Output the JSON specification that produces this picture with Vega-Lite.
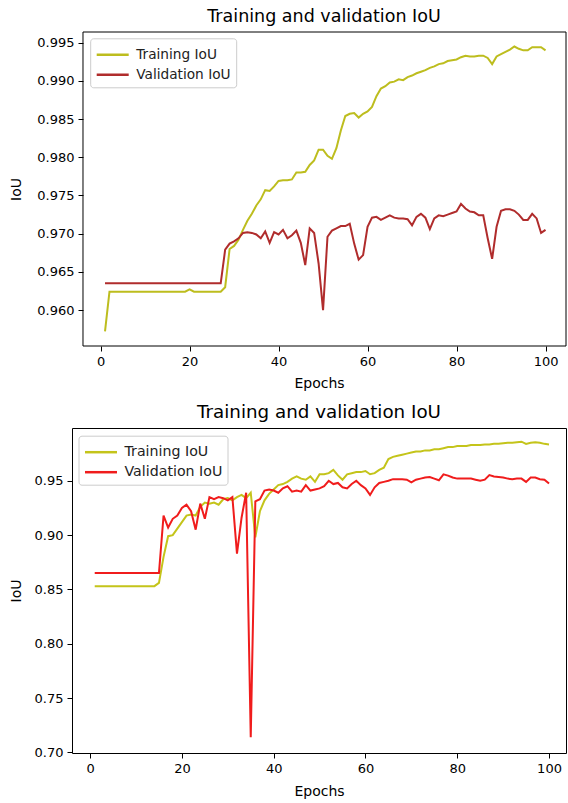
{
  "$schema": "https://vega.github.io/schema/vega-lite/v6.json",
  "padding": {"left": 9, "top": 8, "right": 0, "bottom": 0},
  "spacing": 12,
  "datasets": {
    "top": [
      {"epoch":1,"Training IoU":0.9572,"Validation IoU":0.9635},
      {"epoch":2,"Training IoU":0.9624,"Validation IoU":0.9635},
      {"epoch":3,"Training IoU":0.9624,"Validation IoU":0.9635},
      {"epoch":4,"Training IoU":0.9624,"Validation IoU":0.9635},
      {"epoch":5,"Training IoU":0.9624,"Validation IoU":0.9635},
      {"epoch":6,"Training IoU":0.9624,"Validation IoU":0.9635},
      {"epoch":7,"Training IoU":0.9624,"Validation IoU":0.9635},
      {"epoch":8,"Training IoU":0.9624,"Validation IoU":0.9635},
      {"epoch":9,"Training IoU":0.9624,"Validation IoU":0.9635},
      {"epoch":10,"Training IoU":0.9624,"Validation IoU":0.9635},
      {"epoch":11,"Training IoU":0.9624,"Validation IoU":0.9635},
      {"epoch":12,"Training IoU":0.9624,"Validation IoU":0.9635},
      {"epoch":13,"Training IoU":0.9624,"Validation IoU":0.9635},
      {"epoch":14,"Training IoU":0.9624,"Validation IoU":0.9635},
      {"epoch":15,"Training IoU":0.9624,"Validation IoU":0.9635},
      {"epoch":16,"Training IoU":0.9624,"Validation IoU":0.9635},
      {"epoch":17,"Training IoU":0.9624,"Validation IoU":0.9635},
      {"epoch":18,"Training IoU":0.9624,"Validation IoU":0.9635},
      {"epoch":19,"Training IoU":0.9624,"Validation IoU":0.9635},
      {"epoch":20,"Training IoU":0.9627,"Validation IoU":0.9635},
      {"epoch":21,"Training IoU":0.9624,"Validation IoU":0.9635},
      {"epoch":22,"Training IoU":0.9624,"Validation IoU":0.9635},
      {"epoch":23,"Training IoU":0.9624,"Validation IoU":0.9635},
      {"epoch":24,"Training IoU":0.9624,"Validation IoU":0.9635},
      {"epoch":25,"Training IoU":0.9624,"Validation IoU":0.9635},
      {"epoch":26,"Training IoU":0.9624,"Validation IoU":0.9635},
      {"epoch":27,"Training IoU":0.9624,"Validation IoU":0.9635},
      {"epoch":28,"Training IoU":0.9630,"Validation IoU":0.9679},
      {"epoch":29,"Training IoU":0.9680,"Validation IoU":0.9687},
      {"epoch":30,"Training IoU":0.9684,"Validation IoU":0.9690},
      {"epoch":31,"Training IoU":0.9692,"Validation IoU":0.9694},
      {"epoch":32,"Training IoU":0.9705,"Validation IoU":0.9701},
      {"epoch":33,"Training IoU":0.9717,"Validation IoU":0.9702},
      {"epoch":34,"Training IoU":0.9726,"Validation IoU":0.9701},
      {"epoch":35,"Training IoU":0.9737,"Validation IoU":0.9699},
      {"epoch":36,"Training IoU":0.9745,"Validation IoU":0.9694},
      {"epoch":37,"Training IoU":0.9757,"Validation IoU":0.9703},
      {"epoch":38,"Training IoU":0.9756,"Validation IoU":0.9688},
      {"epoch":39,"Training IoU":0.9762,"Validation IoU":0.9702},
      {"epoch":40,"Training IoU":0.9769,"Validation IoU":0.9699},
      {"epoch":41,"Training IoU":0.9770,"Validation IoU":0.9705},
      {"epoch":42,"Training IoU":0.9770,"Validation IoU":0.9694},
      {"epoch":43,"Training IoU":0.9771,"Validation IoU":0.9698},
      {"epoch":44,"Training IoU":0.9780,"Validation IoU":0.9704},
      {"epoch":45,"Training IoU":0.9780,"Validation IoU":0.9688},
      {"epoch":46,"Training IoU":0.9781,"Validation IoU":0.9659},
      {"epoch":47,"Training IoU":0.9790,"Validation IoU":0.9707},
      {"epoch":48,"Training IoU":0.9796,"Validation IoU":0.9701},
      {"epoch":49,"Training IoU":0.9810,"Validation IoU":0.9661},
      {"epoch":50,"Training IoU":0.9810,"Validation IoU":0.9600},
      {"epoch":51,"Training IoU":0.9802,"Validation IoU":0.9696},
      {"epoch":52,"Training IoU":0.9798,"Validation IoU":0.9704},
      {"epoch":53,"Training IoU":0.9812,"Validation IoU":0.9707},
      {"epoch":54,"Training IoU":0.9835,"Validation IoU":0.9710},
      {"epoch":55,"Training IoU":0.9854,"Validation IoU":0.9710},
      {"epoch":56,"Training IoU":0.9857,"Validation IoU":0.9713},
      {"epoch":57,"Training IoU":0.9858,"Validation IoU":0.9687},
      {"epoch":58,"Training IoU":0.9852,"Validation IoU":0.9666},
      {"epoch":59,"Training IoU":0.9857,"Validation IoU":0.9672},
      {"epoch":60,"Training IoU":0.9860,"Validation IoU":0.9709},
      {"epoch":61,"Training IoU":0.9866,"Validation IoU":0.9721},
      {"epoch":62,"Training IoU":0.9880,"Validation IoU":0.9722},
      {"epoch":63,"Training IoU":0.9890,"Validation IoU":0.9718},
      {"epoch":64,"Training IoU":0.9893,"Validation IoU":0.9721},
      {"epoch":65,"Training IoU":0.9898,"Validation IoU":0.9724},
      {"epoch":66,"Training IoU":0.9899,"Validation IoU":0.9721},
      {"epoch":67,"Training IoU":0.9902,"Validation IoU":0.9720},
      {"epoch":68,"Training IoU":0.9901,"Validation IoU":0.9720},
      {"epoch":69,"Training IoU":0.9905,"Validation IoU":0.9719},
      {"epoch":70,"Training IoU":0.9907,"Validation IoU":0.9711},
      {"epoch":71,"Training IoU":0.9910,"Validation IoU":0.9722},
      {"epoch":72,"Training IoU":0.9912,"Validation IoU":0.9726},
      {"epoch":73,"Training IoU":0.9914,"Validation IoU":0.9721},
      {"epoch":74,"Training IoU":0.9917,"Validation IoU":0.9706},
      {"epoch":75,"Training IoU":0.9919,"Validation IoU":0.9720},
      {"epoch":76,"Training IoU":0.9922,"Validation IoU":0.9724},
      {"epoch":77,"Training IoU":0.9923,"Validation IoU":0.9723},
      {"epoch":78,"Training IoU":0.9926,"Validation IoU":0.9725},
      {"epoch":79,"Training IoU":0.9927,"Validation IoU":0.9727},
      {"epoch":80,"Training IoU":0.9928,"Validation IoU":0.9729},
      {"epoch":81,"Training IoU":0.9931,"Validation IoU":0.9739},
      {"epoch":82,"Training IoU":0.9933,"Validation IoU":0.9733},
      {"epoch":83,"Training IoU":0.9932,"Validation IoU":0.9729},
      {"epoch":84,"Training IoU":0.9932,"Validation IoU":0.9728},
      {"epoch":85,"Training IoU":0.9933,"Validation IoU":0.9724},
      {"epoch":86,"Training IoU":0.9933,"Validation IoU":0.9724},
      {"epoch":87,"Training IoU":0.9930,"Validation IoU":0.9694},
      {"epoch":88,"Training IoU":0.9922,"Validation IoU":0.9667},
      {"epoch":89,"Training IoU":0.9932,"Validation IoU":0.9709},
      {"epoch":90,"Training IoU":0.9935,"Validation IoU":0.9730},
      {"epoch":91,"Training IoU":0.9938,"Validation IoU":0.9732},
      {"epoch":92,"Training IoU":0.9941,"Validation IoU":0.9732},
      {"epoch":93,"Training IoU":0.9945,"Validation IoU":0.9730},
      {"epoch":94,"Training IoU":0.9942,"Validation IoU":0.9725},
      {"epoch":95,"Training IoU":0.9940,"Validation IoU":0.9718},
      {"epoch":96,"Training IoU":0.9940,"Validation IoU":0.9718},
      {"epoch":97,"Training IoU":0.9944,"Validation IoU":0.9726},
      {"epoch":98,"Training IoU":0.9944,"Validation IoU":0.9720},
      {"epoch":99,"Training IoU":0.9944,"Validation IoU":0.9701},
      {"epoch":100,"Training IoU":0.9940,"Validation IoU":0.9705}
    ],
    "bottom": [
      {"epoch":1,"Training IoU":0.853,"Validation IoU":0.865},
      {"epoch":2,"Training IoU":0.853,"Validation IoU":0.865},
      {"epoch":3,"Training IoU":0.853,"Validation IoU":0.865},
      {"epoch":4,"Training IoU":0.853,"Validation IoU":0.865},
      {"epoch":5,"Training IoU":0.853,"Validation IoU":0.865},
      {"epoch":6,"Training IoU":0.853,"Validation IoU":0.865},
      {"epoch":7,"Training IoU":0.853,"Validation IoU":0.865},
      {"epoch":8,"Training IoU":0.853,"Validation IoU":0.865},
      {"epoch":9,"Training IoU":0.853,"Validation IoU":0.865},
      {"epoch":10,"Training IoU":0.853,"Validation IoU":0.865},
      {"epoch":11,"Training IoU":0.853,"Validation IoU":0.865},
      {"epoch":12,"Training IoU":0.853,"Validation IoU":0.865},
      {"epoch":13,"Training IoU":0.853,"Validation IoU":0.865},
      {"epoch":14,"Training IoU":0.853,"Validation IoU":0.865},
      {"epoch":15,"Training IoU":0.856,"Validation IoU":0.865},
      {"epoch":16,"Training IoU":0.880,"Validation IoU":0.918},
      {"epoch":17,"Training IoU":0.899,"Validation IoU":0.907},
      {"epoch":18,"Training IoU":0.900,"Validation IoU":0.915},
      {"epoch":19,"Training IoU":0.906,"Validation IoU":0.918},
      {"epoch":20,"Training IoU":0.912,"Validation IoU":0.925},
      {"epoch":21,"Training IoU":0.918,"Validation IoU":0.928},
      {"epoch":22,"Training IoU":0.919,"Validation IoU":0.922},
      {"epoch":23,"Training IoU":0.918,"Validation IoU":0.905},
      {"epoch":24,"Training IoU":0.926,"Validation IoU":0.929},
      {"epoch":25,"Training IoU":0.930,"Validation IoU":0.915},
      {"epoch":26,"Training IoU":0.929,"Validation IoU":0.935},
      {"epoch":27,"Training IoU":0.930,"Validation IoU":0.933},
      {"epoch":28,"Training IoU":0.928,"Validation IoU":0.935},
      {"epoch":29,"Training IoU":0.933,"Validation IoU":0.934},
      {"epoch":30,"Training IoU":0.934,"Validation IoU":0.932},
      {"epoch":31,"Training IoU":0.932,"Validation IoU":0.935},
      {"epoch":32,"Training IoU":0.935,"Validation IoU":0.883},
      {"epoch":33,"Training IoU":0.937,"Validation IoU":0.916},
      {"epoch":34,"Training IoU":0.934,"Validation IoU":0.939},
      {"epoch":35,"Training IoU":0.939,"Validation IoU":0.714},
      {"epoch":36,"Training IoU":0.898,"Validation IoU":0.931},
      {"epoch":37,"Training IoU":0.922,"Validation IoU":0.933},
      {"epoch":38,"Training IoU":0.932,"Validation IoU":0.941},
      {"epoch":39,"Training IoU":0.938,"Validation IoU":0.942},
      {"epoch":40,"Training IoU":0.942,"Validation IoU":0.941},
      {"epoch":41,"Training IoU":0.946,"Validation IoU":0.939},
      {"epoch":42,"Training IoU":0.947,"Validation IoU":0.943},
      {"epoch":43,"Training IoU":0.949,"Validation IoU":0.945},
      {"epoch":44,"Training IoU":0.952,"Validation IoU":0.940},
      {"epoch":45,"Training IoU":0.954,"Validation IoU":0.941},
      {"epoch":46,"Training IoU":0.952,"Validation IoU":0.940},
      {"epoch":47,"Training IoU":0.951,"Validation IoU":0.946},
      {"epoch":48,"Training IoU":0.954,"Validation IoU":0.941},
      {"epoch":49,"Training IoU":0.949,"Validation IoU":0.942},
      {"epoch":50,"Training IoU":0.956,"Validation IoU":0.943},
      {"epoch":51,"Training IoU":0.956,"Validation IoU":0.945},
      {"epoch":52,"Training IoU":0.957,"Validation IoU":0.950},
      {"epoch":53,"Training IoU":0.960,"Validation IoU":0.947},
      {"epoch":54,"Training IoU":0.955,"Validation IoU":0.948},
      {"epoch":55,"Training IoU":0.951,"Validation IoU":0.944},
      {"epoch":56,"Training IoU":0.956,"Validation IoU":0.943},
      {"epoch":57,"Training IoU":0.957,"Validation IoU":0.947},
      {"epoch":58,"Training IoU":0.958,"Validation IoU":0.950},
      {"epoch":59,"Training IoU":0.958,"Validation IoU":0.946},
      {"epoch":60,"Training IoU":0.959,"Validation IoU":0.943},
      {"epoch":61,"Training IoU":0.956,"Validation IoU":0.937},
      {"epoch":62,"Training IoU":0.957,"Validation IoU":0.944},
      {"epoch":63,"Training IoU":0.960,"Validation IoU":0.948},
      {"epoch":64,"Training IoU":0.962,"Validation IoU":0.949},
      {"epoch":65,"Training IoU":0.970,"Validation IoU":0.950},
      {"epoch":66,"Training IoU":0.972,"Validation IoU":0.9515},
      {"epoch":67,"Training IoU":0.973,"Validation IoU":0.9515},
      {"epoch":68,"Training IoU":0.974,"Validation IoU":0.9515},
      {"epoch":69,"Training IoU":0.975,"Validation IoU":0.951},
      {"epoch":70,"Training IoU":0.976,"Validation IoU":0.9485},
      {"epoch":71,"Training IoU":0.977,"Validation IoU":0.951},
      {"epoch":72,"Training IoU":0.977,"Validation IoU":0.952},
      {"epoch":73,"Training IoU":0.978,"Validation IoU":0.953},
      {"epoch":74,"Training IoU":0.978,"Validation IoU":0.9535},
      {"epoch":75,"Training IoU":0.979,"Validation IoU":0.952},
      {"epoch":76,"Training IoU":0.979,"Validation IoU":0.9505},
      {"epoch":77,"Training IoU":0.980,"Validation IoU":0.956},
      {"epoch":78,"Training IoU":0.981,"Validation IoU":0.9548},
      {"epoch":79,"Training IoU":0.981,"Validation IoU":0.953},
      {"epoch":80,"Training IoU":0.982,"Validation IoU":0.952},
      {"epoch":81,"Training IoU":0.982,"Validation IoU":0.952},
      {"epoch":82,"Training IoU":0.982,"Validation IoU":0.952},
      {"epoch":83,"Training IoU":0.983,"Validation IoU":0.952},
      {"epoch":84,"Training IoU":0.983,"Validation IoU":0.951},
      {"epoch":85,"Training IoU":0.983,"Validation IoU":0.950},
      {"epoch":86,"Training IoU":0.9835,"Validation IoU":0.951},
      {"epoch":87,"Training IoU":0.9835,"Validation IoU":0.9552},
      {"epoch":88,"Training IoU":0.984,"Validation IoU":0.954},
      {"epoch":89,"Training IoU":0.984,"Validation IoU":0.9535},
      {"epoch":90,"Training IoU":0.9845,"Validation IoU":0.953},
      {"epoch":91,"Training IoU":0.985,"Validation IoU":0.952},
      {"epoch":92,"Training IoU":0.985,"Validation IoU":0.9515},
      {"epoch":93,"Training IoU":0.9855,"Validation IoU":0.952},
      {"epoch":94,"Training IoU":0.986,"Validation IoU":0.952},
      {"epoch":95,"Training IoU":0.984,"Validation IoU":0.949},
      {"epoch":96,"Training IoU":0.985,"Validation IoU":0.953},
      {"epoch":97,"Training IoU":0.9855,"Validation IoU":0.953},
      {"epoch":98,"Training IoU":0.985,"Validation IoU":0.9515},
      {"epoch":99,"Training IoU":0.984,"Validation IoU":0.951},
      {"epoch":100,"Training IoU":0.9835,"Validation IoU":0.9475}
    ]
  },
  "config": {
    "font": "DejaVu Sans",
    "view": {"stroke": "#000", "strokeWidth": 1},
    "axis": {
      "labelFont": "DejaVu Sans", "titleFont": "DejaVu Sans",
      "labelFontSize": 13, "titleFontSize": 14, "titleFontWeight": "normal",
      "labelColor": "#000", "titleColor": "#000", "tickColor": "#000", "domainColor": "#000",
      "tickSize": 5, "grid": false, "labelPadding": 4
    },
    "axisY": {"titlePadding": 13.5},
    "title": {"font": "DejaVu Sans", "fontSize": 17.5, "fontWeight": "normal", "color": "#000", "offset": 6},
    "legend": {
      "labelFont": "DejaVu Sans", "labelFontSize": 13.7, "labelColor": "#222",
      "symbolType": "M-1.6,0H1.6", "symbolSize": 400, "symbolStrokeWidth": 2.5, "symbolOffset": 6,
      "fillColor": "white", "strokeColor": "#ccc", "cornerRadius": 3, "padding": 5,
      "rowPadding": 1, "labelOffset": 12, "title": null
    }
  },
  "vconcat": [
    {
      "title": {"text": "Training and validation IoU", "dx": 5},
      "width": 494, "height": 314,
      "view": {"stroke": null},
      "layer": [
        {
          "data": {"name": "top"},
          "transform": [{"fold": ["Training IoU", "Validation IoU"], "as": ["series", "iou"]}],
          "mark": {"type": "line", "strokeWidth": 2, "clip": true},
          "encoding": {
            "x": {"field": "epoch", "type": "quantitative", "scale": {"domain": [-6.42, 104.6], "nice": false, "zero": false},
                  "axis": {"title": "Epochs", "values": [0, 20, 40, 60, 80, 100], "domain": false, "titlePadding": 8}},
            "y": {"field": "iou", "type": "quantitative", "scale": {"domain": [0.9553, 0.9964], "nice": false, "zero": false},
                  "axis": {"title": "IoU", "values": [0.96, 0.965, 0.97, 0.975, 0.98, 0.985, 0.99, 0.995], "format": ".3f", "domain": false, "offset": -11}},
            "color": {"field": "series", "type": "nominal",
                      "scale": {"domain": ["Training IoU", "Validation IoU"], "range": ["#bdbd1e", "#b02c2c"]},
                      "legend": {"orient": "none", "legendX": 18.2, "legendY": 6.3}}
          }
        },
        {
          "data": {"values": [{}]},
          "mark": {"type": "rule", "color": "#000", "strokeWidth": 1},
          "encoding": {"x": {"datum": -3.95, "type": "quantitative"}, "y": {"datum": 0.9553, "type": "quantitative"}, "y2": {"datum": 0.9964}}
        },
        {
          "data": {"values": [{}]},
          "mark": {"type": "rule", "color": "#000", "strokeWidth": 1},
          "encoding": {"x": {"datum": 104.6, "type": "quantitative"}, "y": {"datum": 0.9553, "type": "quantitative"}, "y2": {"datum": 0.9964}}
        },
        {
          "data": {"values": [{}]},
          "mark": {"type": "rule", "color": "#000", "strokeWidth": 1},
          "encoding": {"y": {"datum": 0.9964, "type": "quantitative"}, "x": {"datum": -3.95, "type": "quantitative"}, "x2": {"datum": 104.6}}
        },
        {
          "data": {"values": [{}]},
          "mark": {"type": "rule", "color": "#000", "strokeWidth": 1},
          "encoding": {"y": {"datum": 0.9553, "type": "quantitative"}, "x": {"datum": -3.95, "type": "quantitative"}, "x2": {"datum": 104.6}}
        }
      ]
    },
    {
      "title": {"text": "Training and validation IoU", "fontSize": 18.3},
      "width": 494, "height": 325,
      "data": {"name": "bottom"},
      "transform": [{"fold": ["Training IoU", "Validation IoU"], "as": ["series", "iou"]}],
      "mark": {"type": "line", "strokeWidth": 2, "clip": true},
      "encoding": {
        "x": {"field": "epoch", "type": "quantitative", "scale": {"domain": [-3.95, 103.7], "nice": false, "zero": false},
              "axis": {"title": "Epochs", "values": [0, 20, 40, 60, 80, 100], "domain": false, "titlePadding": 9}},
        "y": {"field": "iou", "type": "quantitative", "scale": {"domain": [0.6994, 0.9986], "nice": false, "zero": false},
              "axis": {"title": "IoU", "values": [0.7, 0.75, 0.8, 0.85, 0.9, 0.95], "format": ".2f", "domain": false, "titlePadding": 10.5}},
        "color": {"field": "series", "type": "nominal",
                  "scale": {"domain": ["Training IoU", "Validation IoU"], "range": ["#c4c41a", "#f01c1c"]},
                  "legend": {"orient": "none", "legendX": 6.5, "legendY": 7.7, "labelFontSize": 14.2}}
      }
    }
  ],
  "resolve": {"scale": {"color": "independent"}, "legend": {"color": "independent"}}
}
